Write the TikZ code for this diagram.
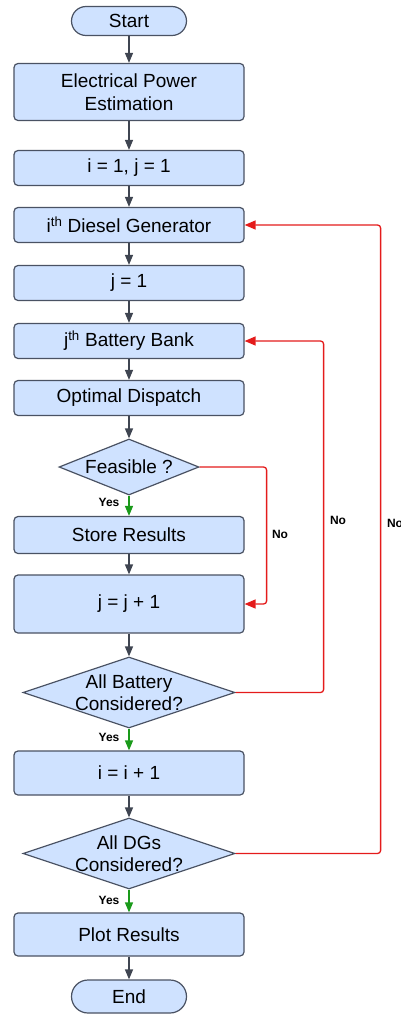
\documentclass[tikz,border=0pt]{standalone}
\usepackage{fontspec}
\setmainfont{Liberation Sans}
\usetikzlibrary{arrows.meta,shapes.geometric}
\definecolor{boxfill}{HTML}{CFE2FF}
\definecolor{boxline}{HTML}{4A5263}
\definecolor{flowgray}{HTML}{3F4551}
\definecolor{loopred}{HTML}{E41B1B}
\definecolor{yesgreen}{HTML}{1A9A1A}
\tikzset{
  bigtext/.style={font=\fontsize{19}{22.5}\selectfont},
  base/.style={draw=boxline, fill=boxfill, line width=1.2pt, bigtext, align=center, inner sep=0pt},
  procbox/.style={base, rectangle, rounded corners=4pt, minimum width=230pt},
  termbox/.style={base, rectangle, rounded corners=14.5pt, minimum width=115pt, minimum height=29pt},
  decide/.style={base, diamond},
  arr/.style={draw=flowgray, line width=1.3pt, -{Triangle[length=10pt,width=8pt]}},
  yesarr/.style={draw=yesgreen, line width=1.3pt, -{Triangle[length=10pt,width=8pt]}},
  noarr/.style={draw=loopred, line width=1.3pt, rounded corners=3pt, -{Triangle[length=11pt,width=9pt]}},
  tag/.style={font=\fontsize{12}{14}\selectfont\bfseries, text=black, inner sep=0pt}
}
\begin{document}
\begin{tikzpicture}[x=1pt,y=-1pt]
\useasboundingbox (0,0) rectangle (401,1016);

% main column
\node[termbox] (start) at (129,21) {Start};
\node[procbox, minimum height=57pt] (power) at (129,92) {Electrical Power\\Estimation};
\node[procbox, minimum height=35pt] (init) at (129,168) {i = 1, j = 1};
\node[procbox, minimum height=35pt] (dg) at (129,225) {i\textsuperscript{th} Diesel Generator};
\node[procbox, minimum height=35pt] (jone) at (129,283) {j = 1};
\node[procbox, minimum height=35pt] (bat) at (129,341) {j\textsuperscript{th} Battery Bank};
\node[procbox, minimum height=35pt] (disp) at (129,398) {Optimal Dispatch};
\node[decide, minimum width=140pt, minimum height=56pt,
      label={[bigtext]center:Feasible ?}] (feas) at (129,467) {};
\node[procbox, minimum height=37pt] (store) at (129,535) {Store Results};
\node[procbox, minimum height=58pt] (jinc) at (129,604) {j = j + 1};
\node[decide, minimum width=212pt, minimum height=71pt,
      label={[align=center,bigtext]center:All Battery\\Considered?}] (allbat) at (129,692.5) {};
\node[procbox, minimum height=44pt] (iinc) at (129,773) {i = i + 1};
\node[decide, minimum width=212pt, minimum height=71pt,
      label={[align=center,bigtext]center:All DGs\\Considered?}] (alldg) at (129,853.5) {};
\node[procbox, minimum height=43pt] (plot) at (129,934.5) {Plot Results};
\node[termbox, minimum height=33pt, rounded corners=16.5pt] (stop) at (129,996.5) {End};

% straight flow
\draw[arr] (start) -- (power);
\draw[arr] (power) -- (init);
\draw[arr] (init) -- (dg);
\draw[arr] (dg) -- (jone);
\draw[arr] (jone) -- (bat);
\draw[arr] (bat) -- (disp);
\draw[arr] (disp) -- (feas);
\draw[arr] (store) -- (jinc);
\draw[arr] (jinc) -- (allbat);
\draw[arr] (iinc) -- (alldg);
\draw[arr] (plot) -- (stop);

% yes branches
\draw[yesarr] (feas.south) -- (store.north);
\draw[yesarr] (allbat.south) -- (iinc.north);
\draw[yesarr] (alldg.south) -- (plot.north);
\node[tag] (yes1) at (109,502) {Yes};
\node[tag] (yes2) at (109,737) {Yes};
\node[tag] (yes3) at (109,900) {Yes};

% no loops
\draw[noarr] (feas.east) -- ++(67,0) |- (jinc.east);
\draw[noarr] (allbat.east) -- ++(88,0) |- (bat.east);
\draw[noarr] (alldg.east) -- ++(145,0) |- (dg.east);
\node[tag] (no1) at (280,534) {No};
\node[tag] (no2) at (338,520) {No};
\node[tag] (no3) at (395,523) {No};
\end{tikzpicture}
\end{document}
